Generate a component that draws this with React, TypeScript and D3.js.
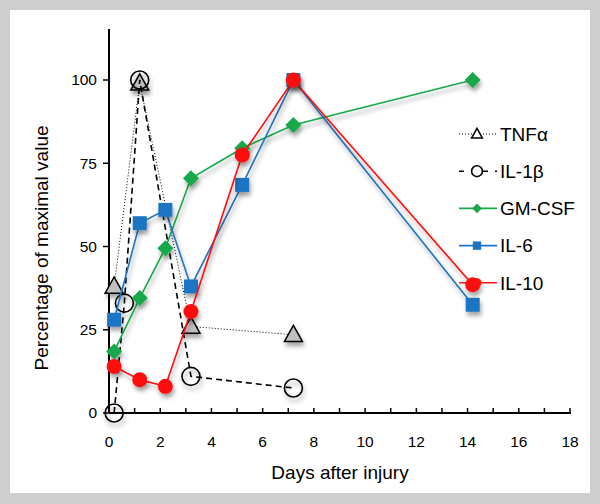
import * as d3 from 'd3';
import { useEffect, useRef } from 'react';

// days after injury for each series
const tnfDays = [0.2, 1.2, 3.2, 7.2];
const tnfValues = [38, 99, 26, 23.5];

const il1Days = [0.2, 0.6, 1.2, 3.2, 7.2];
const il1Values = [0, 33, 100, 11, 7.5];

const gmDays = [0.2, 1.2, 2.2, 3.2, 5.2, 7.2, 14.2];
const gmValues = [18.5, 34.5, 49.5, 70.5, 79.5, 86.5, 100];

const il6Days = [0.2, 1.2, 2.2, 3.2, 5.2, 7.2, 14.2];
const il6Values = [28, 57, 61, 38, 68.5, 100, 32.5];

const il10Days = [0.2, 1.2, 2.2, 3.2, 5.2, 7.2, 14.2];
const il10Values = [14, 10, 8, 30.5, 77.5, 100, 38.5];

const xTicks = [0, 2, 4, 6, 8, 10, 12, 14, 16, 18];
const yTicks = [0, 25, 50, 75, 100];

const seriesNames = ['TNFα', 'IL-1β', 'GM-CSF', 'IL-6', 'IL-10'];

type Series = {
  name: string;
  days: number[];
  values: number[];
  color: string;
  dash: string | null;
  width: number;
  marker: 'triangle' | 'ring' | 'diamond' | 'square' | 'dot';
  fill: string;
};

export default function App() {
  const ref = useRef<SVGSVGElement | null>(null);

  useEffect(() => {
    document.body.style.margin = '0';
    if (!ref.current) return;
    const svg = d3.select(ref.current);
    svg.selectAll('*').remove();

    const width = 600;
    const height = 504;
    const font = "'Liberation Sans', Arial, sans-serif";

    svg.attr('viewBox', `0 0 ${width} ${height}`);

    // frame
    svg.append('rect').attr('width', width).attr('height', height).attr('fill', '#cecece');
    svg.append('rect').attr('x', 10).attr('y', 10).attr('width', 580).attr('height', 483).attr('fill', '#ffffff');

    const defs = svg.append('defs');
    const f = defs.append('filter').attr('id', 'shadow').attr('x', '-50%').attr('y', '-50%').attr('width', '200%').attr('height', '200%');
    f.append('feDropShadow')
      .attr('dx', 1.5).attr('dy', 4).attr('stdDeviation', 2)
      .attr('flood-color', '#000').attr('flood-opacity', 0.35);

    const x = d3.scaleLinear().domain([0, 18]).range([109, 570]);
    const y = d3.scaleLinear().domain([0, 100]).range([413, 80]);

    // axes
    const ax = svg.append('g').attr('stroke', '#000').attr('stroke-width', 2);
    ax.append('line').attr('x1', x(0)).attr('x2', x(0)).attr('y1', 29).attr('y2', y(0));
    ax.append('line').attr('x1', x(0)).attr('x2', x(18) + 1).attr('y1', y(0)).attr('y2', y(0));

    d3.range(0, 19).forEach((d) => {
      ax.append('line').attr('x1', x(d)).attr('x2', x(d)).attr('y1', y(0)).attr('y2', y(0) - 5)
        .attr('stroke-width', 1.5);
    });
    yTicks.forEach((d) => {
      ax.append('line').attr('x1', x(0) - 6).attr('x2', x(0)).attr('y1', y(d)).attr('y2', y(d))
        .attr('stroke-width', 1.5);
    });

    svg.append('g').selectAll('text').data(yTicks).enter().append('text')
      .attr('x', 97).attr('y', (d) => y(d)).attr('dy', '0.35em')
      .attr('text-anchor', 'end').attr('font-family', font).attr('font-size', 15.5)
      .text((d) => d);

    svg.append('g').selectAll('text').data(xTicks).enter().append('text')
      .attr('x', (d) => x(d)).attr('y', 447)
      .attr('text-anchor', 'middle').attr('font-family', font).attr('font-size', 15.5)
      .text((d) => d);

    svg.append('text')
      .attr('x', 340).attr('y', 479).attr('text-anchor', 'middle')
      .attr('font-family', font).attr('font-size', 19).text('Days after injury');

    svg.append('text')
      .attr('transform', `translate(48, 248) rotate(-90)`).attr('text-anchor', 'middle')
      .attr('font-family', font).attr('font-size', 19).text('Percentage of maximal value');

    const series: Series[] = [
      { name: seriesNames[0], days: tnfDays, values: tnfValues, color: '#000', dash: '1,2', width: 1, marker: 'triangle', fill: '#c0c0c0' },
      { name: seriesNames[1], days: il1Days, values: il1Values, color: '#000', dash: '6,4', width: 1.6, marker: 'ring', fill: 'none' },
      { name: seriesNames[2], days: gmDays, values: gmValues, color: '#19a84a', dash: null, width: 1.6, marker: 'diamond', fill: '#19a84a' },
      { name: seriesNames[3], days: il6Days, values: il6Values, color: '#1f74c2', dash: null, width: 1.6, marker: 'square', fill: '#1f74c2' },
      { name: seriesNames[4], days: il10Days, values: il10Values, color: '#ff1010', dash: null, width: 1.6, marker: 'dot', fill: '#ff1010' },
    ];

    const drawMarker = (g: d3.Selection<SVGGElement, unknown, null, undefined>, s: Series, cx: number, cy: number, scale: number) => {
      if (s.marker === 'triangle') {
        const r = 9 * scale;
        g.append('path')
          .attr('d', `M${cx},${cy - r * 1.05} L${cx + r},${cy + r * 0.75} L${cx - r},${cy + r * 0.75} Z`)
          .attr('fill', scale < 1 ? '#fff' : s.fill).attr('stroke', '#000').attr('stroke-width', 1.5);
      } else if (s.marker === 'ring') {
        g.append('circle').attr('cx', cx).attr('cy', cy).attr('r', 9 * scale)
          .attr('fill', scale < 1 ? '#fff' : 'none').attr('stroke', '#000').attr('stroke-width', 1.6);
      } else if (s.marker === 'diamond') {
        const r = 8 * scale;
        g.append('path')
          .attr('d', `M${cx},${cy - r} L${cx + r},${cy} L${cx},${cy + r} L${cx - r},${cy} Z`)
          .attr('fill', s.fill);
      } else if (s.marker === 'square') {
        const r = 7 * scale;
        g.append('rect').attr('x', cx - r).attr('y', cy - r).attr('width', 2 * r).attr('height', 2 * r)
          .attr('fill', s.fill);
      } else {
        g.append('circle').attr('cx', cx).attr('cy', cy).attr('r', 7.5 * scale).attr('fill', s.fill);
      }
    };

    const line = d3.line<[number, number]>().x((d) => x(d[0])).y((d) => y(d[1]));

    series.forEach((s) => {
      const pts: [number, number][] = s.days.map((d, i) => [d, s.values[i]]);
      const g = svg.append('g');
      g.append('path').datum(pts).attr('d', line)
        .attr('fill', 'none').attr('stroke', s.color).attr('stroke-width', s.width)
        .attr('stroke-dasharray', s.dash ?? null)
        .attr('filter', s.dash ? null : 'url(#shadow)');
      const mg = g.append('g').attr('filter', 'url(#shadow)');
      pts.forEach((p) => drawMarker(mg, s, x(p[0]), y(p[1]), 1));
    });

    // legend
    const legend = svg.append('g');
    series.forEach((s, i) => {
      const ly = 134 + i * 37.2;
      const g = legend.append('g');
      g.append('line').attr('x1', 459).attr('x2', 497).attr('y1', ly).attr('y2', ly)
        .attr('stroke', s.color).attr('stroke-width', s.dash === '1,2' ? 1 : 1.6)
        .attr('stroke-dasharray', s.dash === '6,4' ? '5,7' : s.dash ?? null);
      drawMarker(g, s, 477, ly, 0.6);
      g.append('text').attr('x', 500).attr('y', ly).attr('dy', '0.36em')
        .attr('font-family', font).attr('font-size', 19).text(s.name);
    });
  }, []);

  return <svg ref={ref} width={600} height={504} style={{ display: 'block' }} role="img" aria-label="Cytokine levels after injury" />;
}
